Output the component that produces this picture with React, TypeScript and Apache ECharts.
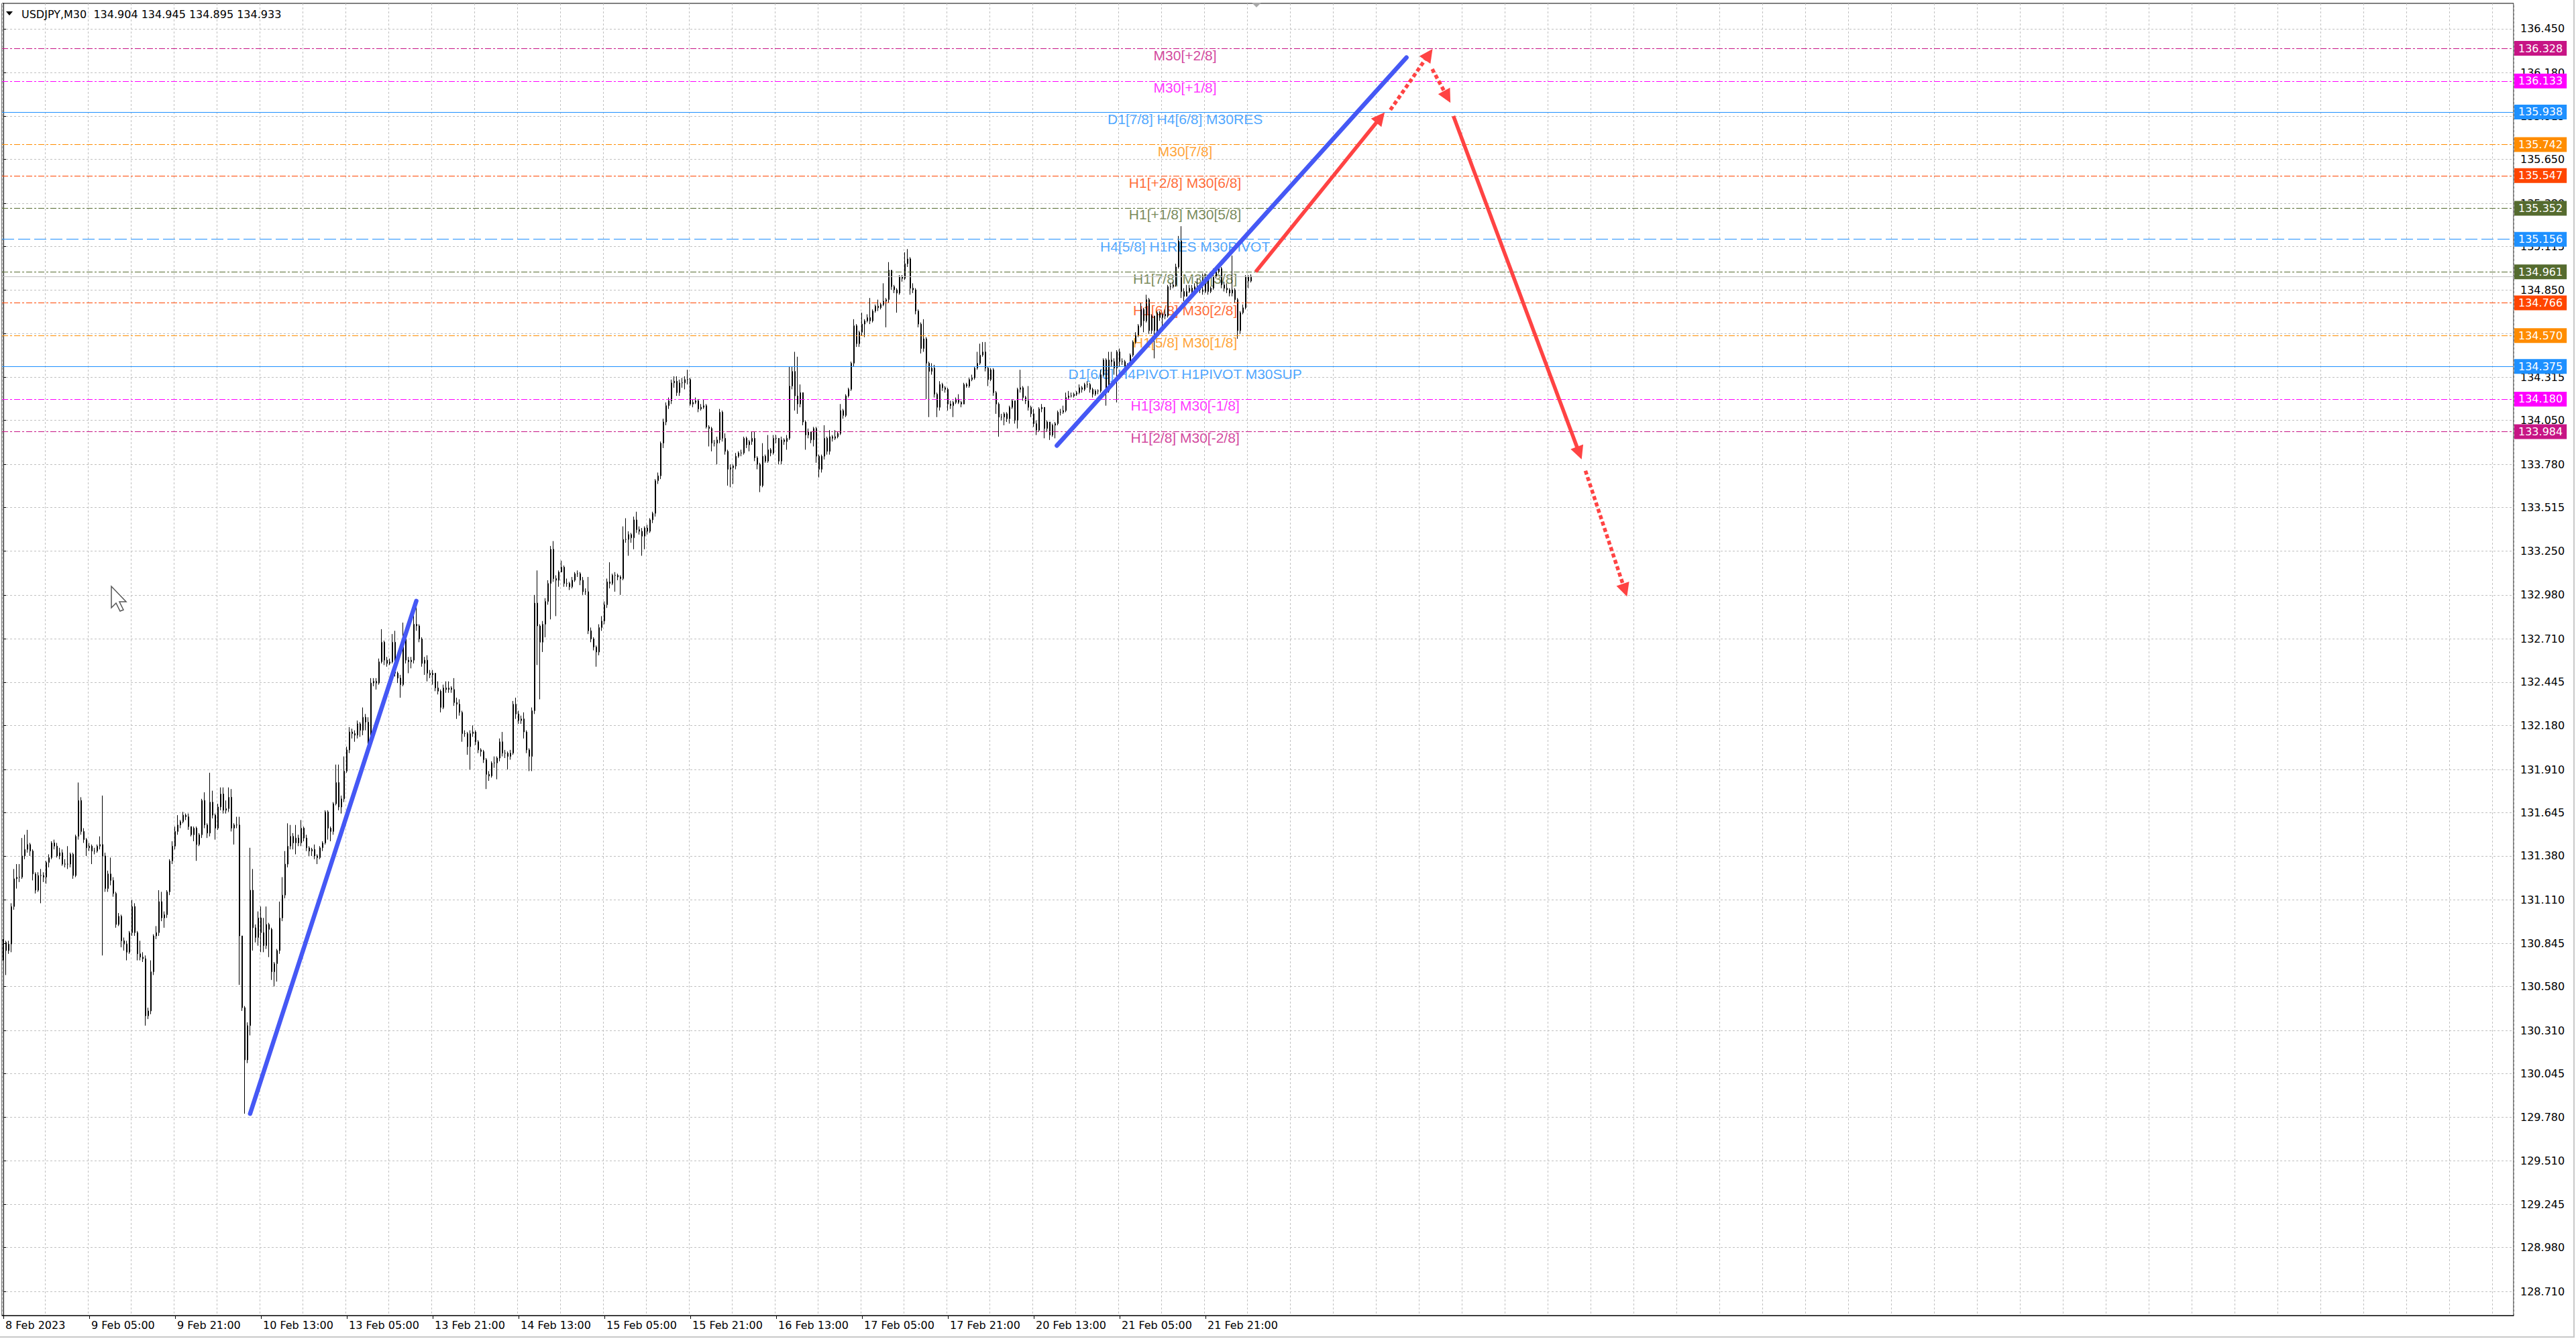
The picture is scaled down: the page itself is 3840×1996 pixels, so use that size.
import React, { useEffect, useRef } from "react";
import * as echarts from "echarts";

// ---------- header ----------
const headerText = "USDJPY,M30  134.904 134.945 134.895 134.933";

// ---------- candles: [close, low, high] per M30 bar, open = previous close ----------
const firstOpen = 130.83;
const feb08 = [
  [130.85,130.74,130.87],[130.80,130.65,130.86],[130.84,130.78,130.86],[131.07,130.79,131.09],[131.24,131.05,131.30],[131.25,131.18,131.33],[131.25,131.22,131.33],[131.38,131.24,131.49],[131.42,131.36,131.51],[131.45,131.40,131.54],[131.41,131.38,131.46],[131.27,131.23,131.42],[131.17,131.15,131.28],[131.26,131.16,131.28],[131.26,131.09,131.30],[131.25,131.22,131.28],[131.34,131.21,131.35],[131.37,131.31,131.39],[131.46,131.36,131.47],[131.44,131.42,131.48],[131.38,131.37,131.46],[131.40,131.36,131.43]
];
const feb09 = [
  [131.33,131.32,131.42],[131.33,131.31,131.36],[131.33,131.30,131.44],[131.39,131.31,131.40],[131.26,131.24,131.40],[131.50,131.25,131.51],[131.72,131.48,131.83],[131.53,131.51,131.74],[131.48,131.46,131.55],[131.43,131.38,131.49],[131.44,131.41,131.46],[131.41,131.33,131.45],[131.41,131.39,131.43],[131.44,131.40,131.45],[131.45,131.42,131.50],[131.38,130.77,131.75],[131.18,131.16,131.40],[131.27,131.16,131.29],[131.23,131.20,131.37],[131.15,131.13,131.25],[130.96,130.94,131.16],[131.01,130.95,131.03],[130.86,130.82,131.02],[130.84,130.80,130.88],[130.79,130.74,130.86],[130.91,130.78,130.92],[131.07,130.89,131.11],[130.91,130.89,131.09],[130.78,130.74,130.92],[130.76,130.74,130.86],[130.75,130.73,130.79],[130.40,130.34,130.77],[130.43,130.38,130.45],[130.67,130.41,130.74],[130.89,130.65,130.90],[130.91,130.87,130.95],[131.10,130.89,131.17],[131.00,130.98,131.16],[131.02,130.94,131.04],[131.16,131.00,131.17],[131.35,131.14,131.36],[131.44,131.33,131.47],[131.53,131.42,131.56],[131.57,131.51,131.63],[131.59,131.55,131.60],[131.63,131.58,131.65],[131.62,131.60,131.64],[131.56,131.54,131.64]
];
const feb10 = [
  [131.51,131.50,131.55],[131.55,131.47,131.56],[131.45,131.35,131.56],[131.51,131.44,131.52],[131.72,131.49,131.73],[131.57,131.55,131.77],[131.52,131.49,131.58],[131.71,131.50,131.89],[131.63,131.61,131.78],[131.55,131.48,131.64],[131.68,131.54,131.70],[131.76,131.66,131.80],[131.66,131.64,131.80],[131.67,131.64,131.72],[131.74,131.65,131.80],[131.55,131.53,131.79],[131.57,131.45,131.58],[131.57,131.55,131.62],[130.89,130.59,131.62],[130.45,130.43,130.89],[130.13,129.80,130.46],[130.34,130.11,130.36],[131.17,130.28,131.43],[130.94,130.80,131.30],[130.88,130.85,130.96],[131.00,130.83,131.04],[130.91,130.79,131.07],[130.83,130.79,131.00],[130.96,130.81,131.07],[130.93,130.76,130.97],[130.67,130.62,130.94],[130.72,130.58,130.73],[130.80,130.61,130.81],[131.00,130.78,131.10],[131.14,130.98,131.25],[131.33,131.12,131.41],[131.44,131.31,131.58],[131.50,131.42,131.57],[131.46,131.42,131.52],[131.49,131.39,131.57],[131.46,131.44,131.51],[131.55,131.44,131.60],[131.49,131.47,131.56],[131.43,131.41,131.51],[131.41,131.38,131.44],[131.42,131.38,131.43],[131.38,131.36,131.45],[131.37,131.33,131.39]
];
const feb13 = [
  [131.43,131.36,131.44],[131.46,131.41,131.47],[131.65,131.45,131.66],[131.55,131.48,131.66],[131.53,131.47,131.56],[131.70,131.51,131.71],[131.83,131.69,131.94],[131.68,131.66,131.94],[131.73,131.64,131.75],[131.90,131.71,131.99],[132.03,131.89,132.05],[132.14,132.01,132.17],[132.13,132.10,132.16],[132.12,132.08,132.15],[132.19,132.10,132.21],[132.15,132.11,132.20],[132.23,132.12,132.29],[132.20,132.15,132.25],[132.06,132.00,132.23],[132.44,132.05,132.47],[132.45,132.42,132.47],[132.44,132.40,132.47],[132.57,132.43,132.59],[132.69,132.56,132.77],[132.58,132.55,132.70],[132.56,132.54,132.60],[132.57,132.55,132.59],[132.69,132.56,132.74],[132.50,132.48,132.76],[132.47,132.44,132.51],[132.43,132.35,132.49],[132.71,132.42,132.81],[132.58,132.56,132.76],[132.57,132.50,132.60],[132.58,132.53,132.60],[132.80,132.56,132.92],[132.79,132.76,132.91],[132.71,132.69,132.80],[132.56,132.54,132.72],[132.58,132.49,132.60],[132.50,132.45,132.61],[132.49,132.47,132.52],[132.50,132.43,132.52],[132.41,132.39,132.50],[132.39,132.37,132.45],[132.29,132.26,132.40],[132.41,132.28,132.43],[132.40,132.38,132.45]
];
const feb14 = [
  [132.41,132.38,132.45],[132.40,132.38,132.42],[132.32,132.30,132.47],[132.31,132.22,132.35],[132.26,132.24,132.34],[132.13,132.08,132.27],[132.13,132.11,132.15],[132.05,132.00,132.14],[132.13,131.91,132.15],[132.14,132.11,132.18],[132.08,132.06,132.15],[132.03,132.01,132.09],[132.02,131.99,132.04],[131.97,131.95,132.03],[131.88,131.79,131.98],[131.87,131.84,131.90],[131.95,131.86,131.96],[131.95,131.92,131.99],[131.98,131.85,131.99],[132.08,131.96,132.10],[132.01,131.99,132.14],[132.01,131.98,132.03],[131.99,131.91,132.02],[132.01,131.97,132.03],[132.31,132.00,132.33],[132.25,132.22,132.35],[132.21,132.19,132.27],[132.22,132.19,132.24],[132.14,132.10,132.26],[132.03,132.01,132.15],[131.99,131.90,132.04],[132.27,131.90,132.29],[132.93,132.25,132.98],[132.79,132.55,133.13],[132.69,132.34,132.80],[132.80,132.63,132.82],[132.94,132.72,132.96],[133.05,132.92,133.07],[133.26,132.83,133.28],[133.08,133.06,133.31],[133.07,132.85,133.10],[133.12,133.03,133.13],[133.15,133.12,133.19],[133.05,133.03,133.16],[133.05,133.03,133.08],[133.03,133.01,133.06],[133.07,133.02,133.09],[133.11,133.06,133.12]
];
const feb15 = [
  [133.11,133.09,133.13],[133.07,133.04,133.12],[133.00,132.98,133.09],[133.00,132.98,133.02],[132.76,132.74,133.09],[132.71,132.69,132.78],[132.66,132.64,132.72],[132.63,132.54,132.67],[132.78,132.61,132.80],[132.82,132.76,132.85],[132.92,132.80,132.94],[133.06,132.90,133.08],[133.05,133.02,133.18],[133.10,133.04,133.11],[133.10,133.00,133.12],[133.09,133.07,133.11],[133.08,132.98,133.10],[133.32,133.07,133.40],[133.32,133.30,133.45],[133.35,133.22,133.37],[133.33,133.30,133.36],[133.44,133.26,133.46],[133.38,133.36,133.49],[133.37,133.35,133.40],[133.34,133.22,133.39],[133.39,133.26,133.40],[133.37,133.35,133.41],[133.44,133.36,133.45],[133.48,133.42,133.49],[133.68,133.46,133.69],[133.71,133.66,133.73],[133.91,133.69,133.92],[134.04,133.88,134.06],[134.14,134.02,134.16],[134.17,134.12,134.19],[134.28,134.15,134.30],[134.29,134.25,134.32],[134.22,134.20,134.32],[134.28,134.20,134.30],[134.28,134.25,134.31],[134.30,134.24,134.32],[134.30,134.27,134.36],[134.15,134.14,134.31],[134.16,134.13,134.18],[134.17,134.15,134.19],[134.12,134.10,134.18],[134.13,134.11,134.15],[134.14,134.12,134.18]
];
const feb16 = [
  [134.01,134.00,134.15],[134.00,133.89,134.02],[133.91,133.86,134.01],[133.91,133.89,133.93],[133.93,133.78,133.95],[134.10,133.91,134.12],[133.94,133.92,134.11],[133.86,133.84,133.97],[133.75,133.65,133.87],[133.76,133.64,133.78],[133.77,133.66,133.78],[133.83,133.75,133.85],[133.85,133.82,133.86],[133.85,133.83,133.87],[133.94,133.84,133.95],[133.90,133.88,133.95],[133.92,133.86,133.93],[133.94,133.90,133.98],[133.82,133.80,133.98],[133.78,133.75,133.83],[133.65,133.61,133.79],[133.83,133.64,133.91],[133.80,133.79,133.84],[133.87,133.79,133.96],[133.85,133.83,133.88],[133.94,133.84,133.96],[133.94,133.91,133.96],[133.80,133.78,133.94],[133.93,133.78,133.95],[133.92,133.90,133.94],[133.94,133.87,133.96],[134.26,133.93,134.38],[134.35,134.24,134.38],[134.20,134.11,134.47],[134.15,134.09,134.44],[134.22,134.13,134.27],[134.04,134.02,134.22],[133.96,133.87,134.05],[133.98,133.94,134.00],[133.93,133.91,133.98],[134.00,133.89,134.01],[133.83,133.79,134.01],[133.75,133.70,133.84],[133.83,133.73,133.84],[133.94,133.81,134.02],[133.86,133.84,133.95],[133.95,133.84,133.99],[133.94,133.92,133.96]
];
const feb17 = [
  [133.95,133.93,133.99],[133.97,133.94,133.98],[134.11,133.96,134.15],[134.08,134.06,134.12],[134.20,134.07,134.21],[134.24,134.19,134.25],[134.40,134.23,134.41],[134.63,134.38,134.67],[134.52,134.50,134.64],[134.59,134.50,134.60],[134.64,134.57,134.71],[134.66,134.56,134.67],[134.68,134.65,134.70],[134.66,134.64,134.80],[134.72,134.65,134.73],[134.75,134.71,134.76],[134.74,134.72,134.79],[134.76,134.73,134.77],[134.78,134.75,134.89],[134.79,134.62,134.80],[134.97,134.77,135.02],[134.87,134.85,134.97],[134.85,134.83,134.88],[134.83,134.71,134.86],[134.93,134.82,134.94],[134.92,134.90,134.94],[135.01,134.91,135.08],[135.04,134.99,135.10],[134.86,134.82,135.05],[134.85,134.83,134.89],[134.72,134.70,134.86],[134.64,134.62,134.73],[134.49,134.46,134.65],[134.55,134.47,134.67],[134.40,134.18,134.56],[134.35,134.07,134.41],[134.37,134.33,134.40],[134.21,134.19,134.39],[134.13,134.07,134.22],[134.27,134.11,134.29],[134.25,134.23,134.28],[134.24,134.22,134.26],[134.15,134.11,134.25],[134.14,134.12,134.17],[134.16,134.07,134.17],[134.18,134.15,134.19],[134.16,134.15,134.21],[134.15,134.13,134.17]
];
const feb20 = [
  [134.27,134.22,134.28],[134.26,134.25,134.28],[134.30,134.25,134.31],[134.31,134.29,134.33],[134.37,134.30,134.38],[134.40,134.36,134.47],[134.45,134.39,134.52],[134.47,134.44,134.53],[134.37,134.35,134.53],[134.30,134.26,134.38],[134.36,134.29,134.37],[134.22,134.20,134.37],[134.15,134.09,134.23],[134.07,133.95,134.16],[134.07,134.05,134.09],[134.09,134.02,134.10],[134.06,134.04,134.10],[134.13,134.03,134.14],[134.17,134.12,134.18],[134.05,134.03,134.10],[134.24,134.00,134.25],[134.25,134.22,134.36],[134.19,134.17,134.26],[134.17,134.15,134.20],[134.13,134.11,134.26],[134.09,134.07,134.14],[134.03,134.01,134.12],[133.99,133.96,134.05],[134.12,133.98,134.13],[134.13,134.10,134.15],[134.00,133.94,134.12],[134.04,133.98,134.05],[133.96,133.93,134.04],[134.02,133.95,134.03],[134.03,133.94,134.04],[134.10,134.02,134.11],[134.10,134.08,134.12],[134.11,134.09,134.14],[134.19,134.10,134.22],[134.20,134.18,134.23],[134.20,134.19,134.22],[134.21,134.19,134.22],[134.22,134.20,134.23],[134.25,134.21,134.27],[134.24,134.22,134.26],[134.27,134.23,134.28],[134.27,134.25,134.29],[134.24,134.22,134.28]
];
const feb21 = [
  [134.21,134.19,134.25],[134.23,134.20,134.24],[134.23,134.21,134.24],[134.33,134.22,134.36],[134.42,134.32,134.43],[134.23,134.14,134.43],[134.42,134.22,134.47],[134.41,134.38,134.47],[134.37,134.33,134.43],[134.47,134.16,134.48],[134.41,134.38,134.49],[134.41,134.39,134.43],[134.38,134.36,134.42],[134.39,134.36,134.40],[134.45,134.38,134.46],[134.53,134.44,134.54],[134.57,134.52,134.59],[134.63,134.56,134.64],[134.73,134.62,134.77],[134.66,134.59,134.74],[134.79,134.65,134.82],[134.60,134.58,134.80],[134.69,134.58,134.70],[134.60,134.43,134.65],[134.71,134.59,134.72],[134.68,134.66,134.72],[134.70,134.61,134.71],[134.69,134.67,134.73],[134.87,134.68,134.88],[134.87,134.85,134.89],[134.88,134.86,134.90],[134.99,134.87,135.01],[135.15,134.98,135.18],[134.84,134.80,135.24],[134.81,134.78,134.86],[134.84,134.82,134.88],[134.86,134.83,134.88],[134.84,134.81,134.88],[134.87,134.84,134.89],[134.87,134.85,134.92],[134.85,134.83,134.88],[134.84,134.82,134.95],[134.91,134.83,134.95],[134.84,134.82,134.92],[134.86,134.83,134.87],[134.93,134.85,134.98],[134.96,134.92,134.99],[134.98,134.95,135.00]
];
const feb22 = [
  [134.88,134.86,134.99],[134.86,134.84,134.90],[134.85,134.83,134.89],[134.83,134.81,134.86],[134.85,134.81,135.06],[134.79,134.77,134.86],[134.60,134.55,134.80],[134.71,134.58,134.72],[134.74,134.70,134.76],[134.93,134.73,134.94],[134.904,134.86,134.94],[134.933,134.895,134.945]
];
const dayBlocks = [feb08, feb09, feb10, feb13, feb14, feb15, feb16, feb17, feb20, feb21, feb22];

// ---------- axes ----------
const timeLabels = [
  "8 Feb 2023", "9 Feb 05:00", "9 Feb 21:00", "10 Feb 13:00", "13 Feb 05:00", "13 Feb 21:00",
  "14 Feb 13:00", "15 Feb 05:00", "15 Feb 21:00", "16 Feb 13:00", "17 Feb 05:00", "17 Feb 21:00",
  "20 Feb 13:00", "21 Feb 05:00", "21 Feb 21:00"
];
const barsPerLabel = 32;
const barsPerGrid = 16;
const totalSlots = 936;
const priceTicks = [
  136.45, 136.18, 135.915, 135.65, 135.38, 135.115, 134.85, 134.58, 134.315, 134.05, 133.78,
  133.515, 133.25, 132.98, 132.71, 132.445, 132.18, 131.91, 131.645, 131.38, 131.11, 130.845,
  130.58, 130.31, 130.045, 129.78, 129.51, 129.245, 128.98, 128.71
];
const yMin = 128.563;
const yMax = 136.606;

// ---------- Murrey levels ----------
const levelPrices = [136.328, 136.133, 135.938, 135.742, 135.547, 135.352, 135.156, 134.961, 134.766, 134.570, 134.375, 134.180, 133.984];
const levelNames = [
  "M30[+2/8]", "M30[+1/8]", "D1[7/8] H4[6/8] M30RES", "M30[7/8]", "H1[+2/8] M30[6/8]",
  "H1[+1/8] M30[5/8]", "H4[5/8] H1RES M30PIVOT", "H1[7/8] M30[3/8]", "H1[6/8] M30[2/8]",
  "H1[5/8] M30[1/8]", "D1[6/8] H4PIVOT H1PIVOT M30SUP", "H1[3/8] M30[-1/8]", "H1[2/8] M30[-2/8]"
];
const levelColors = ["#C71585", "#FF00FF", "#1E90FF", "#FF8C00", "#FF4500", "#556B2F", "#1E90FF", "#556B2F", "#FF4500", "#FF8C00", "#1E90FF", "#FF00FF", "#C71585"];
const levelStyles = ["dashdot", "dashdot", "solid", "dashdot", "dashdot", "dashdot", "dash", "dashdot", "dashdot", "dashdot", "solid", "dashdot", "dashdot"];
const levelLabelBar = 440.4;
const bidPrice = 134.933;

// ---------- drawn objects (bar index, price) ----------
const blueTrends = [
  [[91.95, 129.80], [153.9, 132.943]],
  [[392.6, 133.895], [522.9, 136.274]],
];
const redSolidArrows = [
  [[466.7, 134.96], [513.2, 135.906]],
  [[540.4, 135.915], [587.3, 133.849]],
];
const redDottedArrows = [
  [[516.9, 135.953], [531.2, 136.293]],
  [[532.5, 136.203], [538.1, 136.033]],
  [[589.6, 133.741], [604.3, 133.009]],
];

const AXIS_FONT = "DejaVu Sans";
const LEVEL_FONT = "Liberation Sans";

function dashOf(style: string): any {
  if (style === "dashdot") return [9, 3, 3, 3];
  if (style === "dash") return [18, 6];
  return "solid";
}

export default function App() {
  const ref = useRef<HTMLDivElement>(null);
  useEffect(() => {
    document.body.style.margin = "0";
    if (!ref.current) return;
    const chart = echarts.init(ref.current, undefined, { renderer: "svg" });

    const candles: number[][] = [];
    let prev = firstOpen;
    for (const block of dayBlocks) {
      for (const [c, l, h] of block) {
        candles.push([prev, c, l, h]);
        prev = c;
      }
    }
    const lastLabelIndex = (timeLabels.length - 1) * barsPerLabel;
    const categories = Array.from({ length: totalSlots }, (_, i) => String(i));

    const markData: any[] = levelPrices.map((p, k) => ({
      yAxis: p,
      lineStyle: { color: levelColors[k], width: 1.2, type: dashOf(levelStyles[k]) },
      label: {
        show: true,
        position: "end",
        distance: 1,
        formatter: p.toFixed(3),
        backgroundColor: levelColors[k],
        color: "#ffffff",
        padding: [3, 6, 3, 6],
        fontFamily: AXIS_FONT,
        fontSize: 16,
        lineHeight: 16,
      },
    }));
    markData.push({
      yAxis: bidPrice,
      lineStyle: { color: "#C0C0C0", width: 1, type: "solid" },
      label: { show: false },
    });

    const option: any = {
      animation: false,
      backgroundColor: "#ffffff",
      textStyle: { fontFamily: AXIS_FONT },
      grid: {
        left: 3, right: 93, top: 5, bottom: 35,
        show: true, borderColor: "#000000", borderWidth: 1, backgroundColor: "#ffffff",
      },
      xAxis: [
        {
          type: "category",
          data: categories,
          boundaryGap: true,
          axisLine: { show: true, lineStyle: { color: "#000000", width: 1 } },
          axisTick: {
            show: true,
            alignWithLabel: true,
            length: 5,
            interval: (i: number) => i % barsPerLabel === 0 && i <= lastLabelIndex,
            lineStyle: { color: "#000000" },
          },
          axisLabel: {
            show: true,
            interval: (i: number) => i % barsPerLabel === 0 && i <= lastLabelIndex,
            formatter: (_v: string, i: number) => timeLabels[Math.round(i / barsPerLabel)] || "",
            align: "left",
            fontFamily: AXIS_FONT,
            fontSize: 16,
            color: "#000000",
            margin: 6,
            padding: [0, 0, 0, 3],
          },
          splitLine: {
            show: true,
            interval: (i: number) => i % barsPerGrid === 0,
            lineStyle: { color: "#C0C0C0", width: 1, type: [3, 3] },
          },
        },
        { type: "value", min: -0.5, max: totalSlots - 0.5, show: false },
      ],
      yAxis: {
        type: "value",
        position: "right",
        min: yMin,
        max: yMax,
        axisLine: { show: true, lineStyle: { color: "#000000", width: 1 } },
        axisTick: { show: true, length: 4, customValues: priceTicks, lineStyle: { color: "#000000" } },
        axisLabel: {
          show: true,
          customValues: priceTicks,
          formatter: (v: number) => v.toFixed(3),
          fontFamily: AXIS_FONT,
          fontSize: 16,
          color: "#000000",
          margin: 10,
        },
        splitLine: { show: true, lineStyle: { color: "#C0C0C0", width: 1, type: [3, 3] } },
      },
      series: [
        {
          type: "scatter",
          xAxisIndex: 1,
          yAxisIndex: 0,
          silent: true,
          z: 2,
          symbolSize: 1,
          itemStyle: { color: "rgba(0,0,0,0)" },
          data: levelPrices.map((p, k) => ({
            value: [levelLabelBar, p],
            label: { formatter: levelNames[k], color: levelColors[k] },
          })),
          label: {
            show: true,
            position: "bottom",
            distance: -1,
            fontFamily: LEVEL_FONT,
            fontSize: 21,
            lineHeight: 21,
          },
          labelLayout: { hideOverlap: false },
        },
        {
          type: "candlestick",
          xAxisIndex: 0,
          yAxisIndex: 0,
          silent: true,
          z: 3,
          barWidth: 2,
          large: false,
          data: candles,
          itemStyle: {
            color: "#ffffff",
            color0: "#000000",
            borderColor: "#000000",
            borderColor0: "#000000",
            borderWidth: 1,
          },
          markLine: {
            silent: true,
            symbol: ["none", "none"],
            animation: false,
            data: markData,
          },
        },
        {
          type: "lines",
          coordinateSystem: "cartesian2d",
          xAxisIndex: 1,
          yAxisIndex: 0,
          silent: true,
          z: 6,
          symbol: "none",
          lineStyle: { color: "#4558F5", width: 6.5, opacity: 1, cap: "round", curveness: 0 },
          data: blueTrends.map((c) => ({ coords: c })),
        },
        {
          type: "lines",
          coordinateSystem: "cartesian2d",
          xAxisIndex: 1,
          yAxisIndex: 0,
          silent: true,
          z: 7,
          symbol: ["none", "triangle"],
          symbolSize: 20,
          lineStyle: { color: "#FF4343", width: 5.5, opacity: 1, curveness: 0 },
          data: redSolidArrows.map((c) => ({ coords: c })),
        },
        {
          type: "lines",
          coordinateSystem: "cartesian2d",
          xAxisIndex: 1,
          yAxisIndex: 0,
          silent: true,
          z: 7,
          symbol: ["none", "triangle"],
          symbolSize: 20,
          lineStyle: { color: "#FF4343", width: 5.5, opacity: 1, type: [6, 4], curveness: 0 },
          data: redDottedArrows.map((c) => ({ coords: c })),
        },
      ],
      graphic: [
        {
          type: "polygon",
          z: 100,
          shape: { points: [[9, 17], [19, 17], [14, 23]] },
          style: { fill: "#000000" },
        },
        {
          type: "text",
          z: 100,
          style: {
            text: headerText,
            x: 32,
            y: 21,
            verticalAlign: "middle",
            fontFamily: AXIS_FONT,
            fontSize: 16,
            fill: "#000000",
          },
        },
        {
          type: "polygon",
          z: 100,
          shape: { points: [[1866, 4], [1880, 4], [1873, 11]] },
          style: { fill: "#A8A8A8" },
        },
        {
          type: "polygon",
          z: 100,
          shape: { points: [[166, 874], [166, 906], [173, 899], [179, 911], [184, 909], [178, 897], [188, 897]] },
          style: { fill: "#ffffff", stroke: "#555555", lineWidth: 1.5 },
        },
        {
          type: "line",
          z: 100,
          shape: { x1: 3837, y1: 0, x2: 3837, y2: 1993 },
          style: { stroke: "#C8C8C8", lineWidth: 2 },
        },
        {
          type: "line",
          z: 100,
          shape: { x1: 0, y1: 1993, x2: 3838, y2: 1993 },
          style: { stroke: "#C8C8C8", lineWidth: 2 },
        },
      ],
    };
    chart.setOption(option);
    return () => chart.dispose();
  }, []);
  return <div ref={ref} style={{ width: 3840, height: 1996 }} />;
}
